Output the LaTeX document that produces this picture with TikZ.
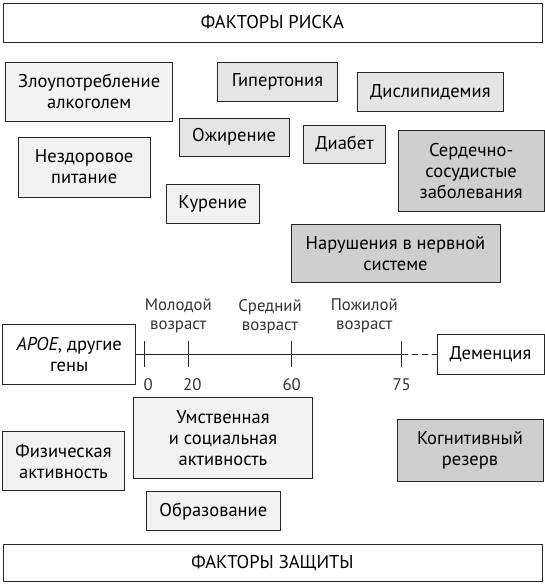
\documentclass[tikz,border=0pt]{standalone}
\usepackage{fontspec}
\setmainfont{PT Sans}
\newcommand\bx[7]{\node[#1, minimum width={(#4)-(#2)}, minimum height={(#5)-(#3)}] (#6) at ({((#2)+(#4))/2},{((#3)+(#5))/2}) {#7};}
\begin{document}
\begin{tikzpicture}[x=1pt,y=-1pt,
  box/.style={draw=black!85, line width=0.8pt, rectangle, inner sep=0pt, align=center, text=black, font=\fontsize{18.5}{21}\selectfont},
  lite/.style={box, fill=black!5},
  mid/.style={box, fill=black!10},
  dark/.style={box, fill=black!19},
  plain/.style={box, fill=white},
  head/.style={plain},
  lbl/.style={align=center, inner sep=0pt, text=black!80, font=\fontsize{16.8}{19}\selectfont},
  axis/.style={draw=black!85, line width=0.8pt},
]
\useasboundingbox (0,0) rectangle (545,584);
\bx{head}{3}{3}{542}{42}{risk}{ФАКТОРЫ РИСКА}
\bx{lite}{5.7}{62.7}{172.7}{121}{alc}{Злоупотребление\\алкоголем}
\bx{mid}{217.3}{62.7}{337.7}{101}{hyp}{Гипертония}
\bx{mid}{357.3}{72.7}{503.3}{111}{dys}{Дислипидемия}
\bx{mid}{179.3}{118.3}{289}{156}{obe}{Ожирение}
\bx{mid}{303.3}{125}{385.7}{163.3}{dia}{Диабет}
\bx{lite}{18.3}{137}{150}{197}{diet}{Нездоровое\\питание}
\bx{dark}{398.3}{130}{544}{211.7}{cvd}{Сердечно-\\сосудистые\\заболевания}
\bx{lite}{166}{184}{259.3}{223.3}{smk}{Курение}
\bx{dark}{291}{224.3}{500}{282.7}{nerv}{Нарушения в нервной\\системе}
\bx{plain}{2.7}{324.3}{135.7}{384.3}{apoe}{\textit{APOE}, другие\\гены}
\bx{plain}{437}{334.5}{544}{374.1}{dem}{Деменция}
\bx{lite}{133.3}{397.3}{312.7}{478.3}{ment}{Умственная\\и социальная\\активность}
\bx{lite}{2.7}{431.7}{124.3}{490.3}{phys}{Физическая\\активность}
\bx{dark}{397}{419}{543}{481}{cog}{Когнитивный\\резерв}
\bx{lite}{146.7}{491.7}{280}{530.7}{edu}{Образование}
\bx{head}{3}{544.3}{542}{581}{prot}{ФАКТОРЫ ЗАЩИТЫ}
\coordinate (t0) at (144.3,354.3);
\coordinate (t20) at (188.3,354.3);
\coordinate (t60) at (291.7,354.3);
\coordinate (t75) at (401.7,354.3);
\draw[axis] (apoe.east) -- (t75);
\draw[axis, dashed, dash pattern=on 6pt off 4pt] (t75) -- (dem.west);
\foreach \t in {t0,t20,t60,t75}{\draw[axis] (\t) ++(0,-13.3) -- ++(0,26);}
\node[lbl] (young) at (178.3,316.2) {Молодой\\возраст};
\node[lbl] (middle) at (270,316.2) {Средний\\возраст};
\node[lbl] (old) at (364.3,316.2) {Пожилой\\возраст};
\node[lbl] (n0) at (148.3,384.3) {0};
\node[lbl] (n20) at (192.3,384.3) {20};
\node[lbl] (n60) at (291.7,384.3) {60};
\node[lbl] (n75) at (401.7,384.3) {75};
\end{tikzpicture}
\end{document}
